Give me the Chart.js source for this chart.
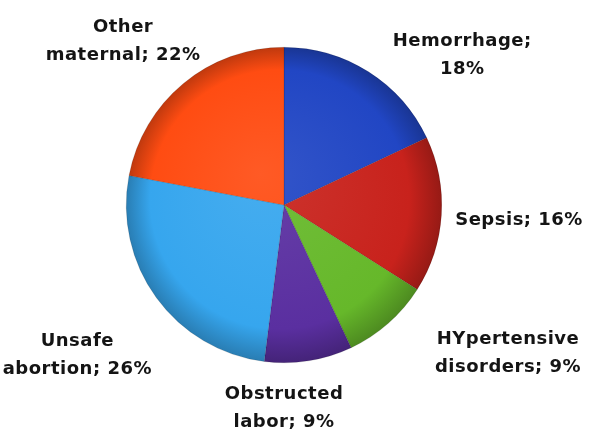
<!DOCTYPE html>
<html>
<head>
<meta charset="utf-8">
<script src="https://cdn.jsdelivr.net/npm/chart.js@4/dist/chart.umd.min.js"></script>
<style>
    html, body { margin: 0; padding: 0; background: #fff; }
    #wrap { width: 592px; height: 432px; }
</style>
</head>
<body>
<div id="wrap"><canvas id="causeChart" width="592" height="432"></canvas></div>
<script>
const causes = ['Hemorrhage', 'Sepsis', 'HYpertensive disorders', 'Obstructed labor', 'Unsafe abortion', 'Other maternal'];
const shares = [18, 16, 9, 9, 26, 22];
const labelLines = [
    ['Hemorrhage;', '18%'],
    ['Sepsis; 16%'],
    ['HYpertensive', 'disorders; 9%'],
    ['Obstructed', 'labor; 9%'],
    ['Unsafe', 'abortion; 26%'],
    ['Other', 'maternal; 22%']
];
const sliceColors = ['#2146c4', '#c8221c', '#66b82a', '#5a2fa0', '#36a6ee', '#ff4c12'];

// label anchors, in units of the pie radius from its centre
const labelSpots = [
    [1.13, -0.95], [1.49, 0.10], [1.42, 0.94], [0.0, 1.29], [-1.31, 0.95], [-1.02, -1.04]
];

function shade(hex, f) {
    const n = parseInt(hex.slice(1), 16);
    const c = [(n >> 16) & 255, (n >> 8) & 255, n & 255].map(v => Math.round(f < 1 ? v * f : v + (255 - v) * (f - 1)));
    return 'rgb(' + c.join(',') + ')';
}

function sliceFill(context) {
    const chart = context.chart;
    const area = chart.chartArea;
    const base = sliceColors[context.dataIndex];
    if (!area) return base;
    const cx = (area.left + area.right) / 2;
    const cy = (area.top + area.bottom) / 2;
    const r = Math.min(area.width, area.height) / 2;
    const g = chart.ctx.createRadialGradient(cx - r * 0.15, cy - r * 0.2, 0, cx, cy, r);
    g.addColorStop(0, shade(base, 1.08));
    g.addColorStop(0.82, base);
    g.addColorStop(1, shade(base, 0.75));
    return g;
}

const sliceLabels = {
    id: 'sliceLabels',
    afterDatasetsDraw(chart) {
        const ctx = chart.ctx;
        const arcs = chart.getDatasetMeta(0).data;
        ctx.save();
        ctx.font = 'bold 18px "DejaVu Sans", sans-serif';
        ctx.letterSpacing = '0.5px';
        ctx.fillStyle = '#141414';
        ctx.textAlign = 'center';
        ctx.textBaseline = 'middle';
        arcs.forEach((arc, i) => {
            const r = arc.outerRadius;
            const x = arc.x + labelSpots[i][0] * r;
            const y = arc.y + labelSpots[i][1] * r;
            const lines = labelLines[i];
            const lh = 28;
            lines.forEach((t, k) => {
                ctx.fillText(t, x, y + (k - (lines.length - 1) / 2) * lh);
            });
        });
        ctx.restore();
    }
};

new Chart(document.getElementById('causeChart'), {
    type: 'pie',
    data: {
        labels: causes,
        datasets: [{
            data: shares,
            backgroundColor: sliceFill,
            borderColor: 'rgba(0,0,0,0.25)',
            borderWidth: 0.5
        }]
    },
    options: {
        responsive: false,
        animation: false,
        layout: {
            padding: { top: 47, bottom: 69, left: 126, right: 150 }
        },
        plugins: {
            legend: { display: false },
            tooltip: { enabled: false }
        }
    },
    plugins: [sliceLabels]
});
</script>
</body>
</html>
